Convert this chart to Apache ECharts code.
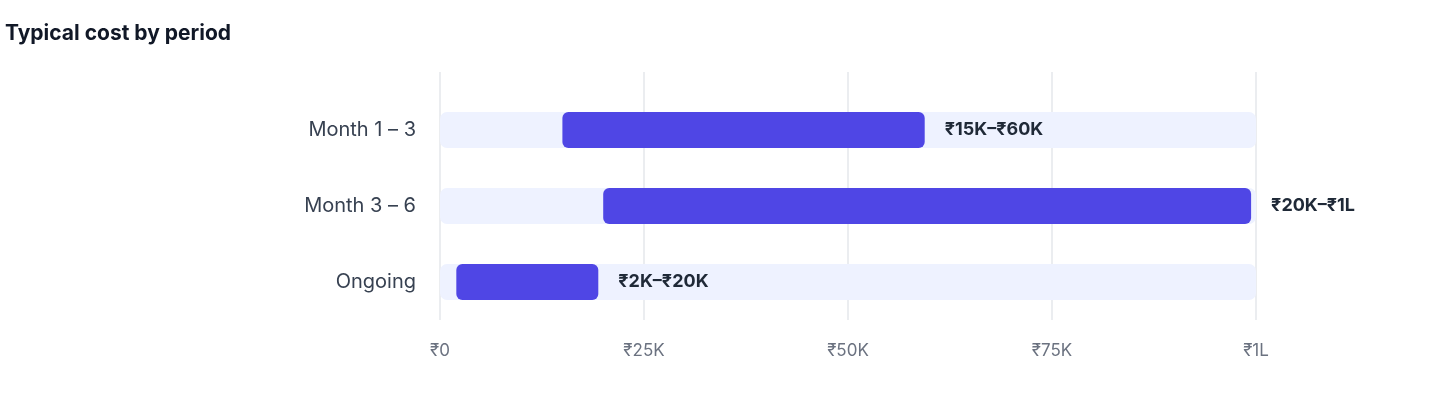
<!DOCTYPE html>
<html><head><meta charset="utf-8">
<script src="https://cdn.jsdelivr.net/npm/echarts@6/dist/echarts.min.js"></script>
<style>html,body{margin:0;padding:0;background:#fff}#c{width:1440px;height:408px}</style>
</head><body><div id="c"></div>
<script>
const categories = ['Month 1 – 3', 'Month 3 – 6', 'Ongoing'];
const lowValues = [15000, 20000, 2000];
const highValues = [60000, 100000, 20000];
const rangeLabels = ['₹15K–₹60K', '₹20K–₹1L', '₹2K–₹20K'];
const trackMax = 100000;
const tickLabels = {0:'₹0',25000:'₹25K',50000:'₹50K',75000:'₹75K',100000:'₹1L'};

const chart = echarts.init(document.getElementById('c'));
const font = 'Inter, "Noto Sans", sans-serif';
chart.setOption({
  animation: false,
  title: {text: 'Typical cost by period', left: 0, top: 18,
    textStyle: {fontFamily: font, fontSize: 21, fontWeight: 'bold', color: '#111827'}},
  grid: [
    {left: 440, right: 184, top: 72, bottom: 88},
    {left: 440, right: 184, top: 92, bottom: 88}
  ],
  xAxis: [
    {gridIndex: 0, type: 'value', min: 0, max: 100000, interval: 25000,
     axisLine: {show: false}, axisTick: {show: false},
     splitLine: {lineStyle: {color: '#e5e7eb', width: 1.5}},
     axisLabel: {margin: 22, color: '#6b7280', fontSize: 17, fontFamily: font, formatter: v => tickLabels[v] || ''}},
    {gridIndex: 1, type: 'value', min: 0, max: 100000, show: false}
  ],
  yAxis: [
    {gridIndex: 0, type: 'category', data: [''], show: false},
    {gridIndex: 1, type: 'category', data: categories, inverse: true,
     axisLine: {show: false}, axisTick: {show: false},
     axisLabel: {margin: 24, color: '#374151', fontSize: 20, fontFamily: font}}
  ],
  series: [
    {type: 'bar', xAxisIndex: 1, yAxisIndex: 1, barWidth: 36, barGap: '-100%', silent: true,
     data: categories.map(() => trackMax),
     itemStyle: {color: '#eef2ff', borderRadius: 7}, z: 1},
    {type: 'bar', xAxisIndex: 1, yAxisIndex: 1, stack: 'r', barWidth: 36,
     data: lowValues, itemStyle: {color: 'transparent'}, z: 2},
    {type: 'bar', xAxisIndex: 1, yAxisIndex: 1, stack: 'r', barWidth: 36,
     data: highValues.map((h, i) => h - lowValues[i] - 600),
     itemStyle: {color: '#4f46e5', borderRadius: 6}, z: 3,
     label: {show: true, position: 'right', distance: 20, formatter: p => rangeLabels[p.dataIndex],
       fontFamily: font, fontSize: 18, fontWeight: 'bold', color: '#1f2937'}}
  ]
});
</script></body></html>
